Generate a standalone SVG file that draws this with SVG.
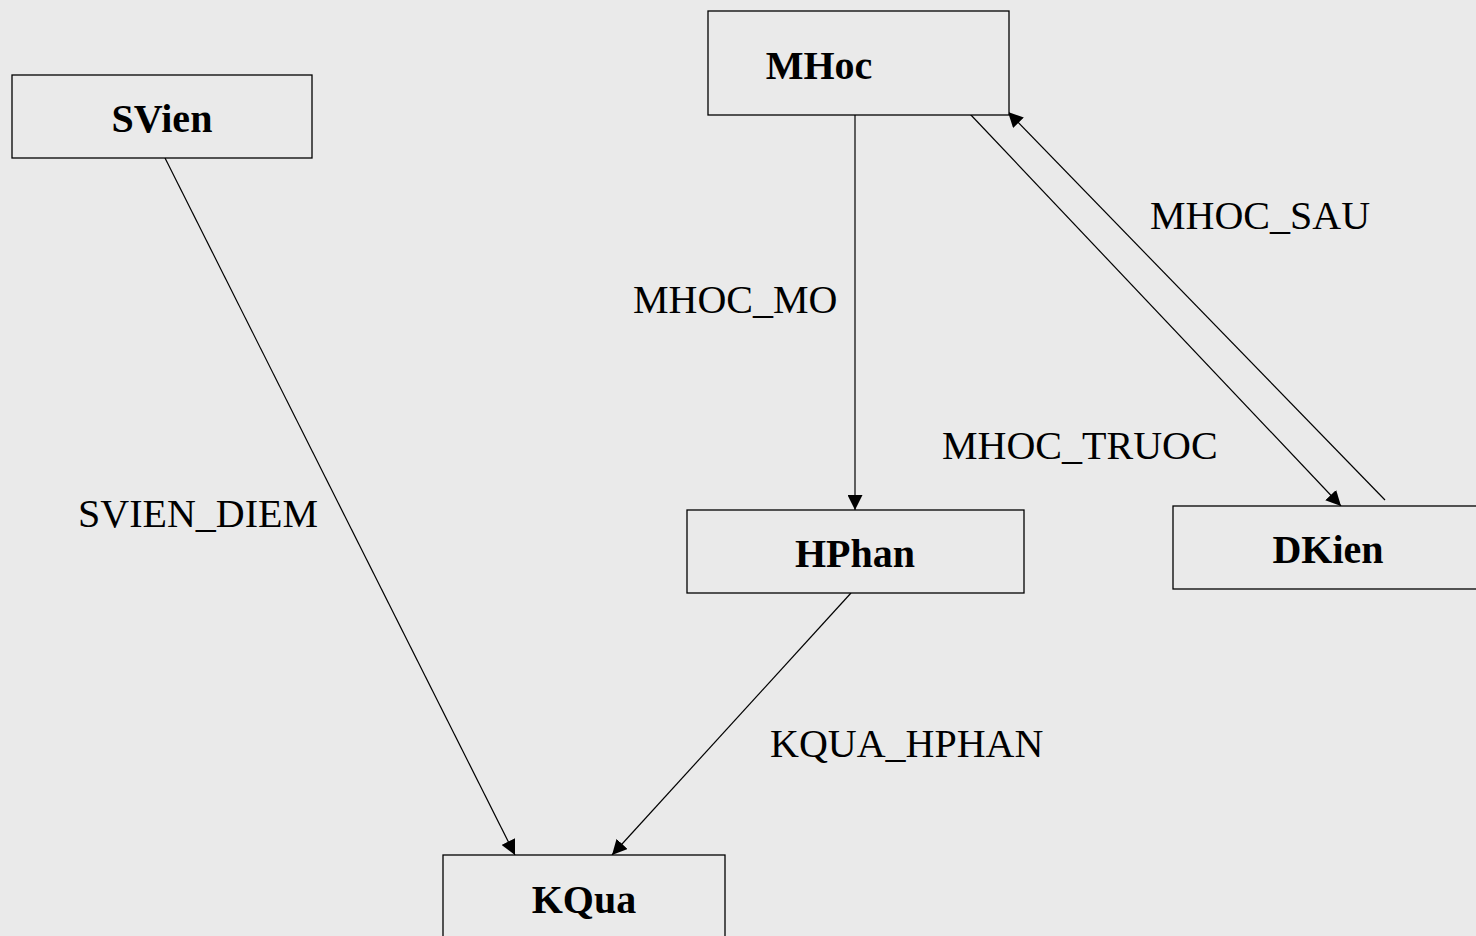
<svg xmlns="http://www.w3.org/2000/svg" width="1476" height="936" viewBox="0 0 1476 936">
<defs>
<style>
.box{fill:#eaeaea;stroke:#000;stroke-width:1.3}
.nt{font-family:"Liberation Serif","Times New Roman",serif;font-weight:bold;font-size:40px;fill:#000;text-anchor:middle}
.lt{font-family:"Liberation Serif","Times New Roman",serif;font-size:40px;fill:#000}
.ln{stroke:#000;stroke-width:1.2;fill:none;marker-end:url(#ah)}
</style>
<marker id="ah" viewBox="0 0 15 15" refX="15" refY="7.5" markerWidth="15" markerHeight="15" markerUnits="userSpaceOnUse" orient="auto">
<path d="M0,0 L15,7.5 L0,15 z" fill="#000"/>
</marker>
</defs>
<rect width="1476" height="936" fill="#eaeaea"/>
<g id="connectors">
<line class="ln" x1="165" y1="158" x2="515" y2="855"/>
<line class="ln" x1="855" y1="115" x2="855" y2="510"/>
<line class="ln" x1="970" y1="114" x2="1341" y2="506"/>
<line class="ln" x1="1385" y1="500" x2="1008" y2="112"/>
<line class="ln" x1="851" y1="593" x2="612" y2="855"/>
<text class="lt" x="633" y="313">MHOC_MO</text>
<text class="lt" x="1150" y="229">MHOC_SAU</text>
<text class="lt" x="942" y="459">MHOC_TRUOC</text>
<text class="lt" x="78" y="527">SVIEN_DIEM</text>
<text class="lt" x="770" y="757">KQUA_HPHAN</text>
</g>
<g id="SVien"><rect class="box" x="12" y="75" width="300" height="83"/><text class="nt" x="162" y="132">SVien</text></g>
<g id="MHoc"><rect class="box" x="708" y="11" width="301" height="104"/><text class="nt" x="819" y="79">MHoc</text></g>
<g id="HPhan"><rect class="box" x="687" y="510" width="337" height="83"/><text class="nt" x="855" y="567">HPhan</text></g>
<g id="DKien"><rect class="box" x="1173" y="506" width="320" height="83"/><text class="nt" x="1328" y="563">DKien</text></g>
<g id="KQua"><rect class="box" x="443" y="855" width="282" height="100"/><text class="nt" x="584" y="913">KQua</text></g>
</svg>
